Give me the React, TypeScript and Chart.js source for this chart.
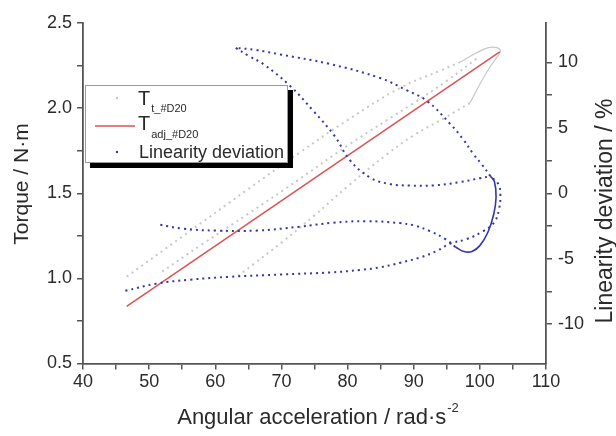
import { useEffect, useRef } from "react";
import { Chart, registerables } from "chart.js";

Chart.register(...registerables);

// Fitted torque T_adj (straight line)
const adjAccel = [46.6, 103.0];
const adjTorque = [0.836, 2.33];

// Measured torque T_t, split into its passes
const tRiseAccel = [46.6, 55, 65, 72.8, 80, 88, 94, 97];
const tRiseTorque = [1.01, 1.245, 1.525, 1.74, 1.93, 2.12, 2.22, 2.27];
const tTipAccel = [97, 99.5, 101.3, 102.6, 103.1, 102.5, 101.5, 100, 98.5];
const tTipTorque = [2.27, 2.325, 2.355, 2.355, 2.335, 2.295, 2.24, 2.14, 2.03];
const tFallAccel = [98.5, 95, 90, 86, 80, 75, 70, 66, 63.3];
const tFallTorque = [2.03, 1.95, 1.84, 1.73, 1.54, 1.37, 1.21, 1.09, 1.01];
const tReturnAccel = [99.5, 95, 90, 80, 72.8, 65, 58, 51.6];
const tReturnTorque = [2.29, 2.16, 2.03, 1.78, 1.585, 1.38, 1.2, 1.03];

// Linearity deviation (%), split into its passes
const devRiseAccel = [46.4, 51.1, 56.2, 62.2, 70, 77.3, 82, 85, 88, 91, 93.5, 95.5, 98, 100.5, 102.2, 102.9, 103.1, 102.8, 101.6];
const devRise = [-7.45, -6.9, -6.6, -6.38, -6.2, -6.05, -5.85, -5.65, -5.3, -4.9, -4.4, -3.85, -3.5, -2.9, -2.2, -1.2, -0.1, 0.7, 1.3];
const devBackAccel = [101.6, 100.3, 99, 97.5, 95.5, 92, 89, 84.9, 77.3, 69.8, 66, 63.1];
const devBack = [1.3, 2.2, 3.0, 4.1, 5.3, 7.05, 7.85, 8.8, 9.87, 10.6, 10.95, 11.1];
const devForwardAccel = [63.1, 65, 67.3, 71.3, 74.8, 78, 80.4, 83.4, 86.4, 89.4, 93, 97, 100, 101.6];
const devForward = [11.1, 10.5, 9.85, 8.2, 6.3, 4.4, 2.5, 1.2, 0.7, 0.59, 0.6, 0.85, 1.15, 1.3];
const devTurnAccel = [101.6, 102.2, 102.45, 102.1, 101.2, 100, 98.8, 97.6, 96.3];
const devTurn = [1.3, 0.9, -0.3, -1.6, -3.0, -4.0, -4.45, -4.45, -4.1];
const devReturnAccel = [96.3, 94.8, 92.5, 90, 87.9, 82.9, 77.8, 72.8, 66.3, 60, 55, 51.6];
const devReturn = [-4.1, -3.5, -2.9, -2.45, -2.28, -2.13, -2.25, -2.55, -2.85, -2.85, -2.7, -2.4];

// Labelled ticks on each axis
const xTicks = [40, 50, 60, 70, 80, 90, 100, 110];
const torqueTicks = [0.5, 1.0, 1.5, 2.0, 2.5];
const devTicks = [-10, -5, 0, 5, 10];

const FONT = '"Liberation Sans", Arial, Helvetica, sans-serif';
const GRAY = "#c8c8c8";
const RED = "#da5555";
const BLUE = "#3535a8";
const AXIS = "#555555";
const TEXT = "#2a2a2a";

const pts = (xs: number[], ys: number[]) => xs.map((x, i) => ({ x, y: ys[i] }));

const isMajor = (v: number, list: number[]) => list.some((t) => Math.abs(t - v) < 1e-6);

// Axis titles and the framed legend with its drop shadow
const overlay = {
  id: "overlay",
  afterDraw(chart: any) {
    const { ctx, chartArea } = chart;
    ctx.save();
    ctx.fillStyle = TEXT;

    // x axis title with superscript
    const main = "Angular acceleration / rad·s";
    const sup = "-2";
    ctx.font = `22px ${FONT}`;
    const w1 = ctx.measureText(main).width;
    ctx.font = `13px ${FONT}`;
    const w2 = ctx.measureText(sup).width;
    const cx = (chartArea.left + chartArea.right) / 2 + 3;
    const x0 = cx - (w1 + w2) / 2;
    const base = 424;
    ctx.textAlign = "left";
    ctx.textBaseline = "alphabetic";
    ctx.font = `22px ${FONT}`;
    ctx.fillText(main, x0, base);
    ctx.font = `13px ${FONT}`;
    ctx.fillText(sup, x0 + w1 + 1, base - 12);

    // left title
    ctx.save();
    ctx.translate(22, 184);
    ctx.rotate(-Math.PI / 2);
    ctx.textAlign = "center";
    ctx.textBaseline = "middle";
    ctx.font = `21px ${FONT}`;
    ctx.fillText("Torque / N·m", 0, 0);
    ctx.restore();

    // right title
    ctx.save();
    ctx.translate(606, 211);
    ctx.rotate(-Math.PI / 2);
    ctx.textAlign = "center";
    ctx.textBaseline = "middle";
    ctx.font = `23px ${FONT}`;
    ctx.fillText("Linearity deviation / %", 0, 0);
    ctx.restore();

    // legend box with shadow
    const lx = 85, ly = 85, lw = 203, lh = 78;
    ctx.fillStyle = "#000";
    ctx.fillRect(lx + 5, ly + 5, lw, lh);
    ctx.fillStyle = "#fff";
    ctx.fillRect(lx, ly, lw, lh);
    ctx.strokeStyle = "#9a9a9a";
    ctx.lineWidth = 1;
    ctx.strokeRect(lx + 0.5, ly + 0.5, lw - 1, lh - 1);

    // entry 1: T_t
    ctx.fillStyle = GRAY;
    ctx.beginPath();
    ctx.arc(117, 98, 1.2, 0, Math.PI * 2);
    ctx.fill();
    ctx.fillStyle = TEXT;
    ctx.font = `20px ${FONT}`;
    ctx.fillText("T", 138, 105);
    let tw = ctx.measureText("T").width;
    ctx.font = `11px ${FONT}`;
    ctx.fillText("t_#D20", 138 + tw + 1, 112);

    // entry 2: T_adj
    ctx.strokeStyle = RED;
    ctx.lineWidth = 1.5;
    ctx.beginPath();
    ctx.moveTo(95, 126);
    ctx.lineTo(135, 126);
    ctx.stroke();
    ctx.font = `20px ${FONT}`;
    ctx.fillText("T", 138, 130);
    tw = ctx.measureText("T").width;
    ctx.font = `11px ${FONT}`;
    ctx.fillText("adj_#D20", 138 + tw + 1, 138);

    // entry 3: deviation
    ctx.fillStyle = BLUE;
    ctx.beginPath();
    ctx.arc(117, 152, 1.2, 0, Math.PI * 2);
    ctx.fill();
    ctx.fillStyle = TEXT;
    ctx.font = `18px ${FONT}`;
    ctx.fillText("Linearity deviation", 139, 158);

    ctx.restore();
  },
};

export default function App() {
  const ref = useRef<HTMLCanvasElement>(null);

  useEffect(() => {
    const dotted = (data: any[], color: string, yAxisID: string, order: number) => ({
      data,
      yAxisID,
      order,
      showLine: true,
      borderColor: color,
      borderWidth: 2,
      borderDash: [2, 4],
      borderCapStyle: "butt",
      pointRadius: 0,
      tension: 0.4,
      fill: false,
    });
    const solid = (data: any[], color: string, yAxisID: string, order: number, width: number, tension = 0.4) => ({
      data,
      yAxisID,
      order,
      showLine: true,
      borderColor: color,
      borderWidth: width,
      pointRadius: 0,
      tension,
      fill: false,
    });

    const chart = new Chart(ref.current!, {
      type: "scatter",
      data: {
        datasets: [
          dotted(pts(devRiseAccel, devRise), BLUE, "y1", 0),
          dotted(pts(devBackAccel, devBack), BLUE, "y1", 0),
          dotted(pts(devForwardAccel, devForward), BLUE, "y1", 0),
          solid(pts(devTurnAccel, devTurn), BLUE, "y1", 0, 1.6),
          dotted(pts(devReturnAccel, devReturn), BLUE, "y1", 0),
          solid(pts(adjAccel, adjTorque), RED, "y", 1, 1.6, 0),
          dotted(pts(tRiseAccel, tRiseTorque), GRAY, "y", 2),
          solid(pts(tTipAccel, tTipTorque), GRAY, "y", 2, 1.2),
          dotted(pts(tFallAccel, tFallTorque), GRAY, "y", 2),
          dotted(pts(tReturnAccel, tReturnTorque), GRAY, "y", 2),
        ] as any,
      },
      options: {
        animation: false,
        responsive: true,
        maintainAspectRatio: false,
        layout: { padding: { top: 23, left: 0, right: 0, bottom: 0 } },
        plugins: { legend: { display: false }, tooltip: { enabled: false } },
        scales: {
          x: {
            type: "linear",
            position: "bottom",
            min: 40,
            max: 110,
            afterFit: (s: any) => {
              s.height = 72.5;
            },
            ticks: {
              stepSize: 5,
              color: TEXT,
              font: { family: FONT, size: 18 },
              padding: 2,
              maxRotation: 0,
              autoSkip: false,
              callback: (v: any) => (isMajor(Number(v), xTicks) ? String(v) : ""),
            },
            grid: { drawOnChartArea: false, drawTicks: true, tickLength: 6, color: AXIS, lineWidth: 1.5 },
            border: { color: AXIS, width: 1.8 },
          },
          y: {
            type: "linear",
            position: "left",
            min: 0.5,
            max: 2.5,
            afterFit: (s: any) => {
              s.width = 83;
            },
            ticks: {
              stepSize: 0.25,
              color: TEXT,
              font: { family: FONT, size: 18 },
              padding: 5,
              autoSkip: false,
              callback: (v: any) => (isMajor(Number(v), torqueTicks) ? Number(v).toFixed(1) : ""),
            },
            grid: { drawOnChartArea: false, drawTicks: true, tickLength: 6, color: AXIS, lineWidth: 1.5 },
            border: { color: AXIS, width: 1.8 },
          },
          y1: {
            type: "linear",
            position: "right",
            min: -13,
            max: 13,
            afterBuildTicks: (s: any) => {
              s.ticks = s.ticks.filter((t: any) => Math.abs(t.value / 2.5 - Math.round(t.value / 2.5)) < 1e-6);
            },
            afterFit: (s: any) => {
              s.width = 70;
            },
            ticks: {
              stepSize: 2.5,
              color: TEXT,
              font: { family: FONT, size: 18 },
              padding: 6,
              autoSkip: false,
              callback: (v: any) => (isMajor(Number(v), devTicks) ? String(v) : ""),
            },
            grid: { drawOnChartArea: false, drawTicks: true, tickLength: 6, color: AXIS, lineWidth: 1.5 },
            border: { color: AXIS, width: 1.8 },
          },
        },
      } as any,
      plugins: [overlay],
    });
    return () => chart.destroy();
  }, []);

  return (
    <div style={{ position: "fixed", left: 0, top: 0, width: 616, height: 436 }}>
      <canvas ref={ref} />
    </div>
  );
}
